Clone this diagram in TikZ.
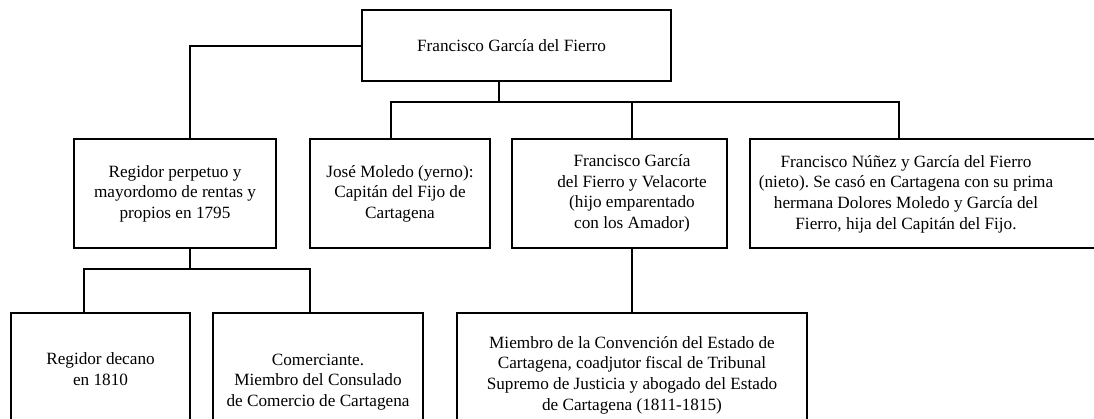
\documentclass[tikz,border=0pt]{standalone}
\usepackage{fontspec}
\setmainfont{Liberation Serif}
\frenchspacing
\begin{document}
\begin{tikzpicture}[x=1pt,y=-1pt,
  box/.style={draw=black, line width=1.5pt, rectangle, inner sep=0pt, align=center,
    font=\fontsize{17.2}{20.6}\selectfont},
  txt/.style={inner sep=0pt, align=center, font=\fontsize{17.2}{20.6}\selectfont},
  conn/.style={draw=black, line width=1.5pt}]
\useasboundingbox (0,0) rectangle (1094,418);
\clip (0,0) rectangle (1094,418);
% boxes
\node[box, minimum width=309pt, minimum height=71pt] (top) at (516.5,45.5) {};
\node[txt] (top-t) at (511.5,46) {Francisco García del Fierro};
\node[box, minimum width=202pt, minimum height=109pt] (reg) at (175,193.5)
  {Regidor perpetuo y\\mayordomo de rentas y\\propios en 1795};
\node[box, minimum width=180pt, minimum height=109pt] (jose) at (400,193.5)
  {José Moledo (yerno):\\Capitán del Fijo de\\Cartagena};
\node[box, minimum width=215pt, minimum height=109pt] (fg) at (619.5,193.5) {};
\node[txt] (fg-t) at (632,193.5)
  {Francisco García\\del Fierro y Velacorte\\(hijo emparentado\\con los Amador)};
\node[box, minimum width=360pt, minimum height=109pt] (nun) at (930,193.5) {};
\node[txt] (nun-t) at (906,194)
  {Francisco Núñez y García del Fierro\\(nieto). Se casó en Cartagena con su prima\\hermana Dolores Moledo y García del\\Fierro, hija del Capitán del Fijo.};
\node[box, minimum width=179pt, minimum height=112pt] (dec) at (100.5,369)
  {Regidor decano\\en 1810};
\node[box, minimum width=210pt, minimum height=138pt] (com) at (318,382)
  {Comerciante.\\Miembro del Consulado\\de Comercio de Cartagena};
\node[box, minimum width=350pt, minimum height=124pt] (mie) at (632,375)
  {Miembro de la Convención del Estado de\\Cartagena, coadjutor fiscal de Tribunal\\Supremo de Justicia y abogado del Estado\\de Cartagena (1811-1815)};
% junction coordinates
\coordinate (b1) at (499,102);
\coordinate (b1L) at (391,102);
\coordinate (b1C) at (632,102);
\coordinate (b1R) at (899,102);
\coordinate (b2) at (190,269);
\coordinate (b2L) at (84,269);
\coordinate (b2R) at (310,269);
\coordinate (b0) at (190,46);
% connectors
\draw[conn] (top.west |- b0) -- (b0) -- (reg.north -| b0);
\draw[conn] (top.south -| b1) -- (b1);
\draw[conn] (jose.north -| b1L) -- (b1L) -- (b1R) -- (nun.north -| b1R);
\draw[conn] (b1C) -- (fg.north -| b1C);
\draw[conn] (reg.south -| b2) -- (b2);
\draw[conn] (dec.north -| b2L) -- (b2L) -- (b2R) -- (com.north -| b2R);
\draw[conn] (fg.south -| mie.north) -- (mie.north);
\end{tikzpicture}
\end{document}
